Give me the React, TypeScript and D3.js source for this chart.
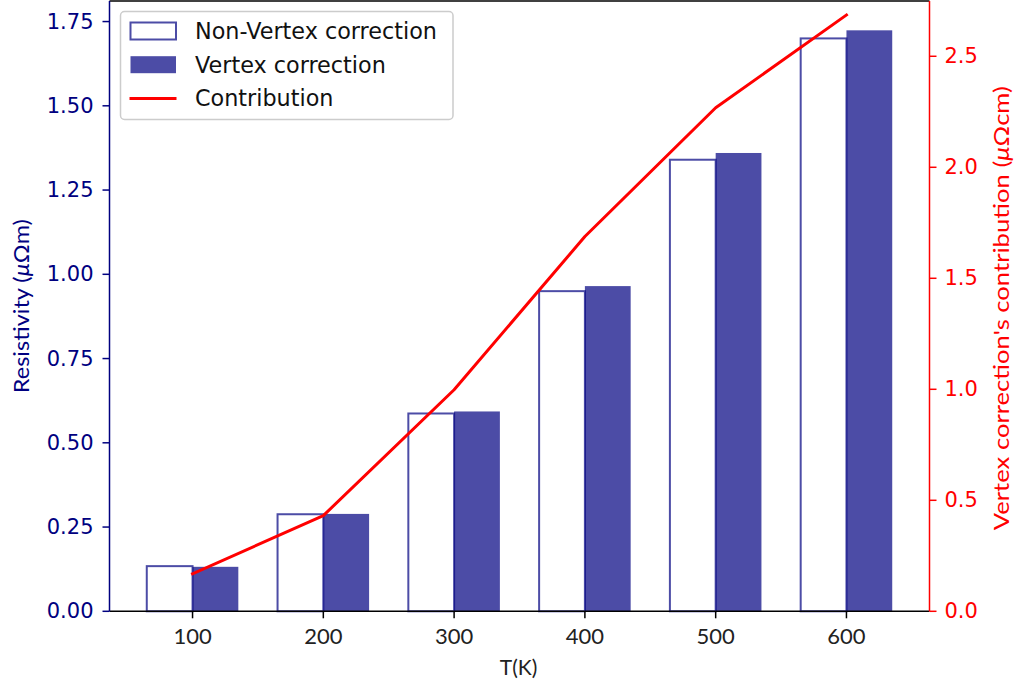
import React from "react";
import * as d3 from "d3";

const temps = [100, 200, 300, 400, 500, 600];
const nonVertex = [0.134, 0.288, 0.587, 0.95, 1.34, 1.7];
const vertex = [0.132, 0.289, 0.593, 0.965, 1.36, 1.724];
const contribution = [0.169, 0.431, 0.998, 1.688, 2.268, 2.686];
const leftTicks = [0, 0.25, 0.5, 0.75, 1.0, 1.25, 1.5, 1.75];
const rightTicks = [0, 0.5, 1.0, 1.5, 2.0, 2.5];
const legendItems = ["Non-Vertex correction", "Vertex correction", "Contribution"];

const W = 1018;
const H = 685;
const L = 109.5;
const R = 929.5;
const T = 1;
const B = 611.3;
const NAVY = "#000080";
const BAR_W = 35;

export default function App() {
  const x = d3.scaleLinear().domain([36.5, 663.5]).range([L, R]);
  const yL = d3.scaleLinear().domain([0, 1.811]).range([B, T]);
  const yR = d3.scaleLinear().domain([0, 2.749]).range([B, T]);
  const line = d3
    .line<number>()
    .x((_, i) => x(temps[i]))
    .y((d) => yR(d));
  const bw = x(BAR_W) - x(0);
  const tickFont = "'DejaVu Sans', sans-serif";
  const geoFont = "Lato, 'DejaVu Sans', sans-serif";

  return (
    <svg
      width={W}
      height={H}
      style={{ position: "absolute", left: 0, top: 0, background: "#fff" }}
    >
      {/* bars */}
      {temps.map((t, i) => (
        <rect
          key={"nv" + t}
          x={x(t - BAR_W)}
          y={yL(nonVertex[i])}
          width={bw}
          height={B - yL(nonVertex[i])}
          fill="#fff"
          stroke={NAVY}
          strokeOpacity={0.7}
          strokeWidth={2}
        />
      ))}
      {temps.map((t, i) => (
        <rect
          key={"v" + t}
          x={x(t)}
          y={yL(vertex[i])}
          width={bw}
          height={B - yL(vertex[i])}
          fill={NAVY}
          fillOpacity={0.7}
        />
      ))}
      {/* line */}
      <path
        d={line(contribution) || ""}
        fill="none"
        stroke="#ff0000"
        strokeWidth={3}
        strokeLinejoin="round"
        strokeLinecap="square"
      />
      {/* spines */}
      <line x1={L} x2={R} y1={T} y2={T} stroke="#000" strokeWidth={1.5} />
      <line x1={L} x2={R} y1={B} y2={B} stroke="#000" strokeWidth={1.5} />
      <line x1={L} x2={L} y1={T} y2={B} stroke={NAVY} strokeWidth={1.5} />
      <line x1={R} x2={R} y1={T} y2={B} stroke="#ff0000" strokeWidth={1.5} />

      {/* left ticks */}
      {leftTicks.map((v) => (
        <g key={"lt" + v} transform={`translate(0,${yL(v)})`}>
          <line x1={L - 7} x2={L} stroke={NAVY} strokeWidth={1.5} />
          <text
            x={L - 16}
            textAnchor="end"
            dominantBaseline="central"
            fontFamily={tickFont}
            fontSize={21}
            fill={NAVY}
          >
            {v.toFixed(2)}
          </text>
        </g>
      ))}
      {/* right ticks */}
      {rightTicks.map((v) => (
        <g key={"rt" + v} transform={`translate(0,${yR(v)})`}>
          <line x1={R} x2={R + 7} stroke="#ff0000" strokeWidth={1.5} />
          <text
            x={R + 15}
            textAnchor="start"
            dominantBaseline="central"
            fontFamily={tickFont}
            fontSize={21}
            fill="#ff0000"
          >
            {v.toFixed(1)}
          </text>
        </g>
      ))}
      {/* bottom ticks */}
      {temps.map((t) => (
        <g key={"bt" + t} transform={`translate(${x(t)},0)`}>
          <line y1={B} y2={B + 7} stroke="#000" strokeWidth={1.5} />
          <text
            y={B + 33}
            textAnchor="middle"
            fontFamily={geoFont}
            fontSize={22}
            fill="#222"
          >
            {t}
          </text>
        </g>
      ))}

      {/* axis labels */}
      <text
        x={(L + R) / 2 - 1}
        y={675}
        textAnchor="middle"
        fontFamily={geoFont}
        fontSize={21}
        fill="#222"
      >
        T(K)
      </text>
      <text
        transform={`translate(29,${(T + B) / 2}) rotate(-90)`}
        textAnchor="middle"
        fontFamily={geoFont}
        fontSize={22}
        fill={NAVY}
        textLength={174}
        lengthAdjust="spacingAndGlyphs"
      >
        Resistivity (<tspan fontStyle="italic">μ</tspan>Ωm)
      </text>
      <text
        transform={`translate(1009,${(T + B) / 2 + 2}) rotate(-90)`}
        textAnchor="middle"
        fontFamily={geoFont}
        fontSize={22}
        fill="#ff0000"
        textLength={444}
        lengthAdjust="spacingAndGlyphs"
      >
        Vertex correction's contribution (<tspan fontStyle="italic">μ</tspan>Ωcm)
      </text>

      {/* legend */}
      <g>
        <rect
          x={120.5}
          y={11.5}
          width={332.5}
          height={108}
          rx={4}
          fill="#fff"
          fillOpacity={0.8}
          stroke="#cccccc"
          strokeWidth={1.5}
        />
        {legendItems.map((label, i) => {
          const cy = 31 + i * 33.7;
          return (
            <g key={label}>
              {i === 0 && (
                <rect
                  x={130.5}
                  y={cy - 8.5}
                  width={45.5}
                  height={17}
                  fill="#fff"
                  stroke={NAVY}
                  strokeOpacity={0.7}
                  strokeWidth={2}
                />
              )}
              {i === 1 && (
                <rect
                  x={130.5}
                  y={cy - 8.5}
                  width={45.5}
                  height={17}
                  fill={NAVY}
                  fillOpacity={0.7}
                />
              )}
              {i === 2 && (
                <line
                  x1={129.5}
                  x2={176.5}
                  y1={cy}
                  y2={cy}
                  stroke="#ff0000"
                  strokeWidth={3}
                />
              )}
              <text
                x={195}
                y={cy}
                dominantBaseline="central"
                fontFamily={tickFont}
                fontSize={22.3}
                fill="#111"
              >
                {label}
              </text>
            </g>
          );
        })}
      </g>
    </svg>
  );
}
